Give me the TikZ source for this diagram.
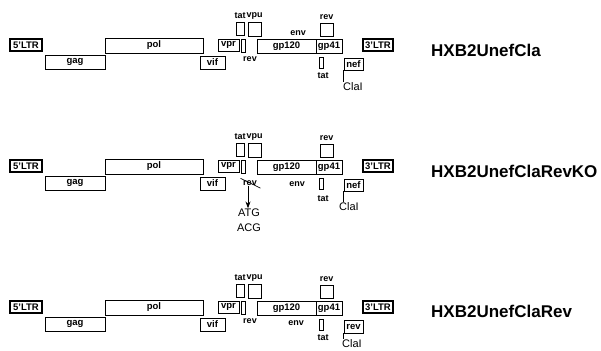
\documentclass[tikz,border=0pt]{standalone}
\usepackage{fontspec}
\setmainfont{Liberation Sans}
\usetikzlibrary{positioning,arrows.meta}

\begin{document}
\begin{tikzpicture}[x=1pt, y=-1pt,
    gene/.style={rectangle, draw, line width=0.8pt, inner sep=0pt, font=\fontsize{9.5}{10}\selectfont\bfseries},
    ltr/.style={gene, line width=1.1pt},
    lbl/.style={inner sep=0.5pt, font=\fontsize{9}{10}\selectfont\bfseries},
    site/.style={inner sep=0.5pt, font=\fontsize{11}{12}\selectfont},
    construct/.style={anchor=west, inner sep=0pt, font=\fontsize{17}{18}\selectfont\bfseries}
  ]
  \useasboundingbox (0,0) rectangle (601,350);

  % HXB2UnefCla
  \begin{scope}[shift={(0,39)}]
    \node[ltr, minimum width=32pt, minimum height=12pt] (ltr5a) at (26,6) {5'LTR};
    \node[gene, minimum width=60pt, minimum height=14pt] (gaga) at (75,23) {gag};
    \node[gene, minimum width=98pt, minimum height=15pt] (pola) at (154,6.5) {pol};
    \node[gene, minimum width=25pt, minimum height=13pt] (vifa) at (212.5,23.5) {vif};
    \node[gene, minimum width=21pt, minimum height=12pt] (vpra) at (228.5,6) {vpr};
    \node[gene, minimum width=3.5pt, minimum height=13pt] (revsa) at (243.5,6.5) {};
    \node[gene, minimum width=8pt, minimum height=13pt] (tata) at (240,-10.5) {};
    \node[gene, minimum width=13pt, minimum height=14pt] (vpua) at (254.5,-10) {};
    \node[gene, minimum width=59pt, minimum height=14pt] (gpoa) at (286.5,7) {gp120};
    \node[gene, minimum width=26pt, minimum height=14pt] (gpta) at (329,7) {gp41};
    \node[gene, minimum width=13pt, minimum height=13pt] (revta) at (326.5,-9.5) {};
    \node[gene, minimum width=4pt, minimum height=11pt] (tatsa) at (321,23.5) {};
    \node[gene, minimum width=19pt, minimum height=12pt] (nefa) at (353.5,25) {nef};
    \node[ltr, minimum width=30pt, minimum height=12pt] (ltr3a) at (378,6) {3'LTR};
    \node[lbl, above=2pt of tata] (tatla) {tat};
    \node[lbl, above=2pt of vpua] (vpula) {vpu};
    \node[lbl, above=2pt of revta] (revla) {rev};
    \node[lbl] (enva) at (298,-6) {env};
    \node[lbl] (revsla) at (250,20) {rev};
    \node[lbl] (tatsla) at (323,37) {tat};
    \node[site] (claia) at (353,48) {ClaI};
    \node[construct] (namea) at (431,11) {HXB2UnefCla};
    \draw[line width=0.7pt] (nefa.south west) -- (nefa.south west |- claia.north);
  \end{scope}

  % HXB2UnefClaRevKO
  \begin{scope}[shift={(0,160)}]
    \node[ltr, minimum width=32pt, minimum height=12pt] (ltr5b) at (26,6) {5'LTR};
    \node[gene, minimum width=60pt, minimum height=14pt] (gagb) at (75,23) {gag};
    \node[gene, minimum width=98pt, minimum height=15pt] (polb) at (154,6.5) {pol};
    \node[gene, minimum width=25pt, minimum height=13pt] (vifb) at (212.5,23.5) {vif};
    \node[gene, minimum width=21pt, minimum height=12pt] (vprb) at (228.5,6) {vpr};
    \node[gene, minimum width=3.5pt, minimum height=13pt] (revsb) at (243.5,6.5) {};
    \node[gene, minimum width=8pt, minimum height=13pt] (tatb) at (240,-10.5) {};
    \node[gene, minimum width=13pt, minimum height=14pt] (vpub) at (254.5,-10) {};
    \node[gene, minimum width=59pt, minimum height=14pt] (gpob) at (286.5,7) {gp120};
    \node[gene, minimum width=26pt, minimum height=14pt] (gptb) at (329,7) {gp41};
    \node[gene, minimum width=13pt, minimum height=13pt] (revtb) at (326.5,-9.5) {};
    \node[gene, minimum width=4pt, minimum height=11pt] (tatsb) at (321,23.5) {};
    \node[gene, minimum width=19pt, minimum height=12pt] (nefb) at (353.5,25) {nef};
    \node[ltr, minimum width=30pt, minimum height=12pt] (ltr3b) at (378,6) {3'LTR};
    \node[lbl, above=2pt of tatb] (tatlb) {tat};
    \node[lbl, above=2pt of vpub] (vpulb) {vpu};
    \node[lbl, above=2pt of revtb] (revlb) {rev};
    \node[lbl] (envb) at (297,24) {env};
    \node[lbl] (revslb) at (250,23) {rev};
    \node[lbl] (tatslb) at (323,39) {tat};
    \node[site] (claib) at (349,47) {ClaI};
    \node[site] (atgb) at (249,53) {ATG};
    \node[site] (acgb) at (249,68) {ACG};
    \node[construct] (nameb) at (431,11) {HXB2UnefClaRevKO};
    \draw[line width=0.7pt] (nefb.south west) -- (nefb.south west |- claib.north);
    \draw[line width=0.7pt] ([xshift=-2pt, yshift=1.5pt]revslb.north west) -- ([xshift=3pt, yshift=-2pt]revslb.south east);
    \draw[line width=0.9pt, -{Stealth[length=7pt, width=5pt]}] ([xshift=-2pt]revslb.south) -- ([xshift=-1pt]atgb.north);
  \end{scope}

  % HXB2UnefClaRev
  \begin{scope}[shift={(0,301)}]
    \node[ltr, minimum width=32pt, minimum height=12pt] (ltr5c) at (26,6) {5'LTR};
    \node[gene, minimum width=60pt, minimum height=14pt] (gagc) at (75,23) {gag};
    \node[gene, minimum width=98pt, minimum height=15pt] (polc) at (154,6.5) {pol};
    \node[gene, minimum width=25pt, minimum height=13pt] (vifc) at (212.5,23.5) {vif};
    \node[gene, minimum width=21pt, minimum height=12pt] (vprc) at (228.5,6) {vpr};
    \node[gene, minimum width=3.5pt, minimum height=13pt] (revsc) at (243.5,6.5) {};
    \node[gene, minimum width=8pt, minimum height=13pt] (tatc) at (240,-10.5) {};
    \node[gene, minimum width=13pt, minimum height=14pt] (vpuc) at (254.5,-10) {};
    \node[gene, minimum width=59pt, minimum height=14pt] (gpoc) at (286.5,7) {gp120};
    \node[gene, minimum width=26pt, minimum height=14pt] (gptc) at (329,7) {gp41};
    \node[gene, minimum width=13pt, minimum height=13pt] (revtc) at (326.5,-9.5) {};
    \node[gene, minimum width=4pt, minimum height=11pt] (tatsc) at (321,23.5) {};
    \node[gene, minimum width=19pt, minimum height=13pt] (revnc) at (353.5,25.5) {rev};
    \node[ltr, minimum width=30pt, minimum height=12pt] (ltr3c) at (378,6) {3'LTR};
    \node[lbl, above=2pt of tatc] (tatlc) {tat};
    \node[lbl, above=2pt of vpuc] (vpulc) {vpu};
    \node[lbl, above=2pt of revtc] (revlc) {rev};
    \node[lbl] (envc) at (296,22) {env};
    \node[lbl] (revslc) at (250,20) {rev};
    \node[lbl] (tatslc) at (323,37) {tat};
    \node[site] (claic) at (352,42.5) {ClaI};
    \node[construct] (namec) at (431,10) {HXB2UnefClaRev};
    \draw[line width=0.7pt] (revnc.south west) -- (revnc.south west |- claic.north);
  \end{scope}
\end{tikzpicture}
\end{document}
